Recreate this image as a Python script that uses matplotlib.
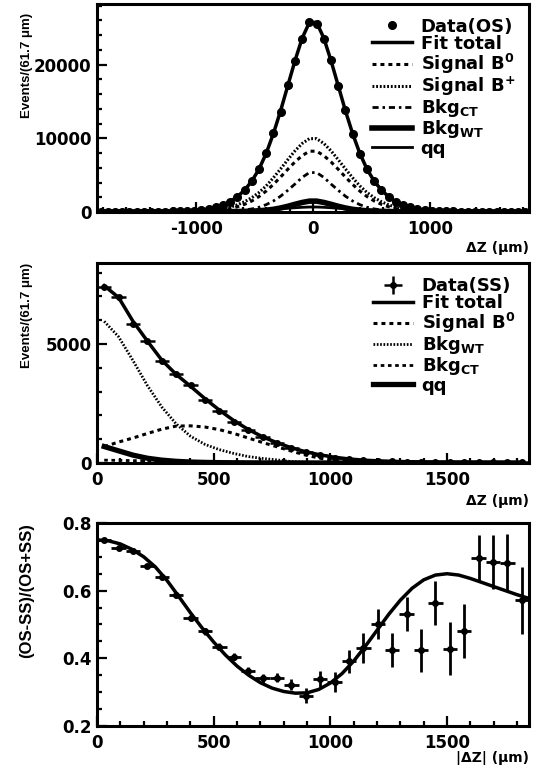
import numpy as np
import matplotlib
matplotlib.use('Agg')
import matplotlib.pyplot as plt
from matplotlib.ticker import MultipleLocator, FormatStrFormatter

plt.rcParams['font.family'] = ['DejaVu Sans']
plt.rcParams['font.weight'] = 'bold'
plt.rcParams['mathtext.fontset'] = 'dejavusans'
plt.rcParams['mathtext.default'] = 'bf'
plt.rcParams['axes.unicode_minus'] = False

# bins of 61.7 um, 30 per side
bin_w = 61.7
centers = np.arange(30) * bin_w + bin_w / 2

# ---- top panel: opposite-sign (OS), positive half of the symmetric fit curves
os_total = [25710, 23590, 20530, 17140, 13740, 10640, 7960, 5820, 4190, 2980,
            2085, 1410, 940, 628, 422, 287, 203, 150, 114, 87,
            72, 58, 50, 43, 38, 34, 30, 27, 25, 24]
os_sig_b0 = [8250, 7650, 6800, 5800, 4750, 3750, 2850, 2100, 1500, 1050,
             720, 470, 300, 190, 120, 75, 45, 30, 20, 12,
             8, 5, 4, 3, 2, 2, 1, 1, 1, 1]
os_sig_bp = [9950, 9300, 8300, 7100, 5850, 4650, 3550, 2650, 1950, 1400,
             980, 660, 430, 280, 175, 110, 70, 45, 30, 20,
             15, 10, 8, 6, 5, 4, 3, 3, 2, 2]
os_bkg_ct = [5350, 4700, 3800, 2950, 2150, 1500, 1000, 650, 420, 280,
             185, 125, 85, 58, 42, 32, 25, 20, 16, 13,
             11, 9, 8, 7, 6, 5, 5, 4, 4, 4]
os_bkg_wt = [1480, 1300, 1050, 780, 550, 370, 250, 170, 120, 90,
             70, 55, 45, 40, 35, 30, 28, 25, 22, 20,
             18, 16, 14, 13, 12, 11, 10, 9, 9, 8]
os_qq = [680, 640, 580, 510, 440, 370, 310, 250, 200, 160,
         130, 100, 80, 60, 50, 40, 35, 30, 26, 22,
         20, 18, 16, 14, 13, 12, 11, 10, 9, 9]
# data, from -1820 to +1820
os_data = [22, 30, 26, 35, 40, 38, 45, 52, 60, 70,
           90, 110, 150, 205, 280, 430, 640, 950, 1400, 2080,
           2990, 4200, 5800, 7950, 10700, 13600, 17200, 20500, 23500, 25800,
           25500, 23400, 20600, 17100, 13800, 10600, 7900, 5850, 4150, 2950,
           2100, 1400, 930, 620, 430, 290, 200, 145, 118, 90,
           70, 60, 48, 44, 36, 33, 31, 25, 27, 22]

# ---- middle panel: same-sign (SS)
ss_data = [7400, 6990, 5850, 5120, 4300, 3750, 3280, 2630, 2180, 1720,
           1380, 1080, 850, 640, 470, 340, 230, 160, 110, 90,
           70, 55, 45, 40, 35, 30, 28, 25, 24, 22]
ss_total = [7450, 6950, 5950, 5120, 4320, 3720, 3220, 2700, 2220, 1780,
            1410, 1100, 850, 640, 470, 340, 240, 170, 120, 90,
            70, 55, 45, 38, 33, 29, 26, 24, 22, 20]
ss_sig_b0 = [690, 880, 1050, 1240, 1420, 1550, 1560, 1510, 1400, 1240,
             1050, 860, 680, 500, 330, 200, 90, 50, 28, 15,
             8, 5, 3, 2, 1, 1, 0, 0, 0, 0]
ss_bkg_wt = [5950, 5300, 4300, 3250, 2350, 1640, 1120, 780, 560, 400,
             270, 190, 130, 60, 35, 20, 12, 8, 5, 4,
             3, 2, 2, 1, 1, 1, 1, 0, 0, 0]
ss_bkg_ct = [120, 110, 100, 90, 80, 70, 60, 50, 40, 35,
             30, 25, 20, 18, 15, 12, 10, 8, 7, 6,
             5, 4, 4, 3, 3, 2, 2, 2, 2, 2]
ss_qq = [690, 510, 330, 200, 120, 70, 40, 25, 15, 10,
         6, 4, 3, 2, 1, 1, 0, 0, 0, 0,
         0, 0, 0, 0, 0, 0, 0, 0, 0, 0]

# ---- bottom panel: asymmetry
asym = [0.749, 0.727, 0.717, 0.673, 0.639, 0.587, 0.520, 0.480, 0.434, 0.405,
        0.363, 0.341, 0.343, 0.322, 0.290, 0.339, 0.329, 0.391, 0.430, 0.502,
        0.424, 0.530, 0.424, 0.563, 0.429, 0.481, 0.695, 0.685, 0.683, 0.571]
asym_err = [0.005, 0.006, 0.006, 0.007, 0.008, 0.008, 0.009, 0.010, 0.010, 0.011,
            0.012, 0.013, 0.014, 0.016, 0.022, 0.024, 0.030, 0.035, 0.044, 0.044,
            0.050, 0.050, 0.063, 0.066, 0.078, 0.080, 0.070, 0.080, 0.085, 0.100]
fit_x = [0, 50, 100, 150, 200, 250, 300, 350, 400, 450, 500, 550, 600, 650,
         700, 750, 800, 850, 900, 950, 1000, 1050, 1100, 1150, 1200, 1250,
         1300, 1350, 1400, 1450, 1500, 1550, 1600, 1650, 1700, 1750, 1800, 1851]
fit_y = [0.750, 0.747, 0.738, 0.722, 0.700, 0.670, 0.630, 0.583, 0.535, 0.490,
         0.448, 0.410, 0.377, 0.350, 0.328, 0.312, 0.302, 0.297, 0.298, 0.308,
         0.327, 0.355, 0.392, 0.436, 0.483, 0.530, 0.572, 0.607, 0.632, 0.646,
         0.650, 0.646, 0.636, 0.624, 0.612, 0.600, 0.588, 0.577]

DOT = (0, (1.3, 1.3))
DENSE = (0, (0.6, 0.6))
DASHDOT = (0, (2.2, 1.4, 0.9, 1.4))


def style(ax):
    for s in ax.spines.values():
        s.set_linewidth(2.2)
    ax.tick_params(which='both', direction='in', top=False, right=False,
                   width=1.6, labelsize=12)
    ax.tick_params(which='major', length=7)
    ax.tick_params(which='minor', length=3.5)
    ax.tick_params(axis='x', pad=6)
    ax.tick_params(axis='y', pad=4)


def ylab(ax, text, size, y=1.0):
    ax.text(-0.162, y, text, rotation=90, ha='center', va='top',
            transform=ax.transAxes, fontsize=size,
            family='Liberation Sans', weight='bold')


def xlab(ax, text, dy):
    ax.text(1.0, dy, text, ha='right', va='center', transform=ax.transAxes,
            fontsize=10, weight='bold')


def mirror(v):
    v = np.asarray(v, dtype=float)
    return np.concatenate([v[::-1], v])


legend_kw = dict(loc='upper right', frameon=False, fontsize=13,
                 handlelength=2.2, handletextpad=0.5, labelspacing=-0.05,
                 borderaxespad=0, borderpad=0, numpoints=1)

fig = plt.figure(figsize=(5.42, 7.83), dpi=100)
ax1 = fig.add_axes([0.179, 0.7292, 0.797, 0.2656])
ax2 = fig.add_axes([0.179, 0.4087, 0.797, 0.2554])
ax3 = fig.add_axes([0.179, 0.0728, 0.797, 0.2593])

# ---------------- top
xf = np.concatenate([-centers[::-1], centers])
ax1.plot(xf, os_data, 'o', color='k', ms=5.5, label='Data(OS)')
ax1.plot(xf, mirror(os_total), '-', color='k', lw=2.5, label='Fit total')
ax1.plot(xf, mirror(os_sig_b0), color='k', lw=2.2, ls=DOT, label=r'Signal B$^0$')
ax1.plot(xf, mirror(os_sig_bp), color='k', lw=2.2, ls=DENSE, label=r'Signal B$^{+}$')
ax1.plot(xf, mirror(os_bkg_ct), color='k', lw=2.0, ls=DASHDOT, label=r'Bkg$_{CT}$')
ax1.plot(xf, mirror(os_bkg_wt), '-', color='k', lw=4, label=r'Bkg$_{WT}$')
ax1.plot(xf, mirror(os_qq), '-', color='k', lw=2, label='qq')
ax1.set_xlim(-30 * bin_w, 30 * bin_w)
ax1.set_ylim(0, 28200)
ax1.xaxis.set_major_locator(MultipleLocator(1000))
ax1.xaxis.set_minor_locator(MultipleLocator(200))
ax1.yaxis.set_major_locator(MultipleLocator(10000))
ax1.yaxis.set_minor_locator(MultipleLocator(2000))
style(ax1)
ylab(ax1, 'Events/(61.7 μm)', 9.5, 0.96)
xlab(ax1, 'ΔZ (μm)', -0.175)
ax1.legend(bbox_to_anchor=(0.968, 0.935), **legend_kw)

# ---------------- middle
eb = ax2.errorbar(centers, ss_data, xerr=bin_w / 2, yerr=np.sqrt(ss_data),
                  fmt='o', color='k', ms=4, elinewidth=1.8, capsize=0)
l_tot, = ax2.plot(centers, ss_total, '-', color='k', lw=2.5)
l_b0, = ax2.plot(centers, ss_sig_b0, color='k', lw=2.2, ls=DOT)
l_wt, = ax2.plot(centers, ss_bkg_wt, color='k', lw=2.0, ls=DENSE)
l_ct, = ax2.plot(centers, ss_bkg_ct, color='k', lw=2.0, ls=DOT)
l_qq, = ax2.plot(centers, ss_qq, color='k', lw=3.8, ls='-')
ax2.set_xlim(0, 30 * bin_w)
ax2.set_ylim(0, 8400)
ax2.xaxis.set_major_locator(MultipleLocator(500))
ax2.xaxis.set_minor_locator(MultipleLocator(100))
ax2.yaxis.set_major_locator(MultipleLocator(5000))
ax2.yaxis.set_minor_locator(MultipleLocator(1000))
style(ax2)
ylab(ax2, 'Events/(61.7 μm)', 9.5)
xlab(ax2, 'ΔZ (μm)', -0.19)
ax2.legend([eb, l_tot, l_b0, l_wt, l_ct, l_qq],
           ['Data(SS)', 'Fit total', r'Signal B$^0$', r'Bkg$_{WT}$',
            r'Bkg$_{CT}$', 'qq'],
           bbox_to_anchor=(0.968, 0.93), **legend_kw)

# ---------------- bottom
ax3.errorbar(centers, asym, xerr=bin_w / 2, yerr=asym_err, fmt='o', color='k',
             ms=4, elinewidth=2, capsize=0)
ax3.plot(fit_x, fit_y, '-', color='k', lw=2.5)
ax3.set_xlim(0, 30 * bin_w)
ax3.set_ylim(0.2, 0.8)
ax3.xaxis.set_major_locator(MultipleLocator(500))
ax3.xaxis.set_minor_locator(MultipleLocator(100))
ax3.yaxis.set_major_locator(MultipleLocator(0.2))
ax3.yaxis.set_minor_locator(MultipleLocator(0.05))
ax3.yaxis.set_major_formatter(FormatStrFormatter('%.1f'))
style(ax3)
ylab(ax3, '(OS-SS)/(OS+SS)', 12)
xlab(ax3, '|ΔZ| (μm)', -0.16)

fig.savefig('out.png', dpi=100)
